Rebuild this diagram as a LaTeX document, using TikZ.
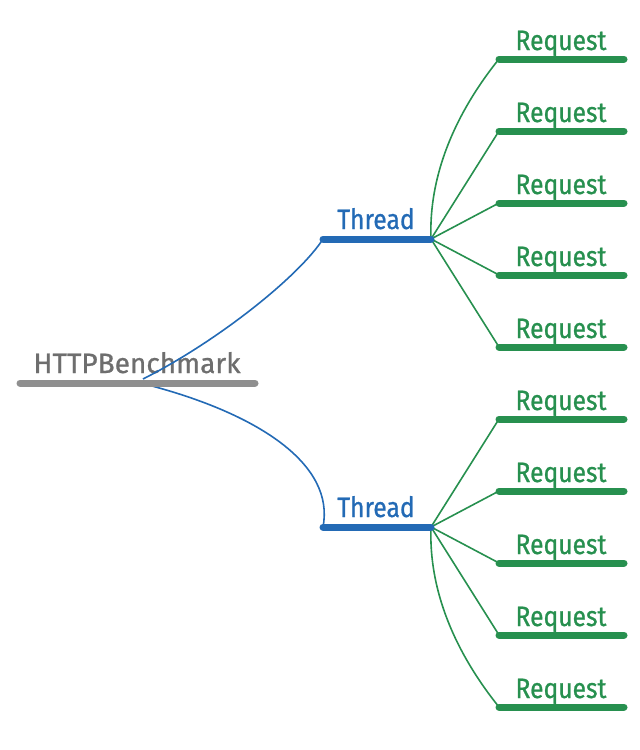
\documentclass[tikz,border=0pt]{standalone}
\usepackage{fontspec}
\setmainfont{Fira Sans}
\newfontfamily\topicfont{Fira Sans}[FakeStretch=0.88,FakeBold=0.8]
\newfontfamily\benchfont{Fira Sans}[FakeBold=0.8]
\usepackage{tikz}
\definecolor{rootgray}{HTML}{8F8F8F}
\definecolor{roottext}{HTML}{6E6E6E}
\definecolor{threadblue}{HTML}{236AB5}
\definecolor{reqgreen}{HTML}{27904F}
\tikzset{
  bar/.style={line width=7pt, line cap=round},
  topic/.style={anchor=base, inner sep=0pt, font=\topicfont\fontsize{28}{28}\selectfont},
  link/.style={line width=1.6pt}
}

\begin{document}
\begin{tikzpicture}[x=1pt,y=-1pt]
  \useasboundingbox (0,0) rectangle (640,750);
  % root
  \draw (137,373) node[topic,roottext,font=\benchfont\fontsize{28}{28}\selectfont] (bench) {HTTPBenchmark};
  \coordinate (benchL) at (20,383);
  \coordinate (benchR) at (255,383);
  \coordinate (benchA) at (143,379);
  \coordinate (benchB) at (152,386);
  % threads
  \draw (376,229) node[topic,threadblue] (thread1) {Thread};
  \coordinate (thread1L) at (323,239);
  \coordinate (thread1R) at (431,239);
  \draw (376,517) node[topic,threadblue] (thread2) {Thread};
  \coordinate (thread2L) at (323,527);
  \coordinate (thread2R) at (431,527);
  % requests
  \draw (561,50) node[topic,reqgreen] (req1) {Request};
  \draw (561,122) node[topic,reqgreen] (req2) {Request};
  \draw (561,194) node[topic,reqgreen] (req3) {Request};
  \draw (561,266) node[topic,reqgreen] (req4) {Request};
  \draw (561,338) node[topic,reqgreen] (req5) {Request};
  \draw (561,410) node[topic,reqgreen] (req6) {Request};
  \draw (561,482) node[topic,reqgreen] (req7) {Request};
  \draw (561,554) node[topic,reqgreen] (req8) {Request};
  \draw (561,626) node[topic,reqgreen] (req9) {Request};
  \draw (561,698) node[topic,reqgreen] (req10) {Request};
  \foreach \i/\y in {1/59,2/131,3/203,4/275,5/347,6/419,7/491,8/563,9/635,10/707}
    \coordinate (req\i L) at (499,\y);

  % links
  \draw[link,threadblue] (benchA) .. controls (220,340) and (300,275) .. (thread1L);
  \draw[link,threadblue] (benchB) .. controls (260,415) and (335,465) .. (thread2L);
  \draw[link,reqgreen] (thread1R) .. controls (428,160) and (470,95) .. (req1L);
  \draw[link,reqgreen] (thread1R) -- (req2L);
  \draw[link,reqgreen] (thread1R) -- (req3L);
  \draw[link,reqgreen] (thread1R) -- (req4L);
  \draw[link,reqgreen] (thread1R) -- (req5L);
  \draw[link,reqgreen] (thread2R) -- (req6L);
  \draw[link,reqgreen] (thread2R) -- (req7L);
  \draw[link,reqgreen] (thread2R) -- (req8L);
  \draw[link,reqgreen] (thread2R) -- (req9L);
  \draw[link,reqgreen] (thread2R) .. controls (428,606) and (470,671) .. (req10L);

  % bars
  \draw[bar,rootgray] (benchL) -- (benchR);
  \draw[bar,threadblue] (thread1L) -- (thread1R);
  \draw[bar,threadblue] (thread2L) -- (thread2R);
  \foreach \i in {1,...,10}
    \draw[bar,reqgreen] (req\i L) -- ++(125,0);
\end{tikzpicture}
\end{document}
